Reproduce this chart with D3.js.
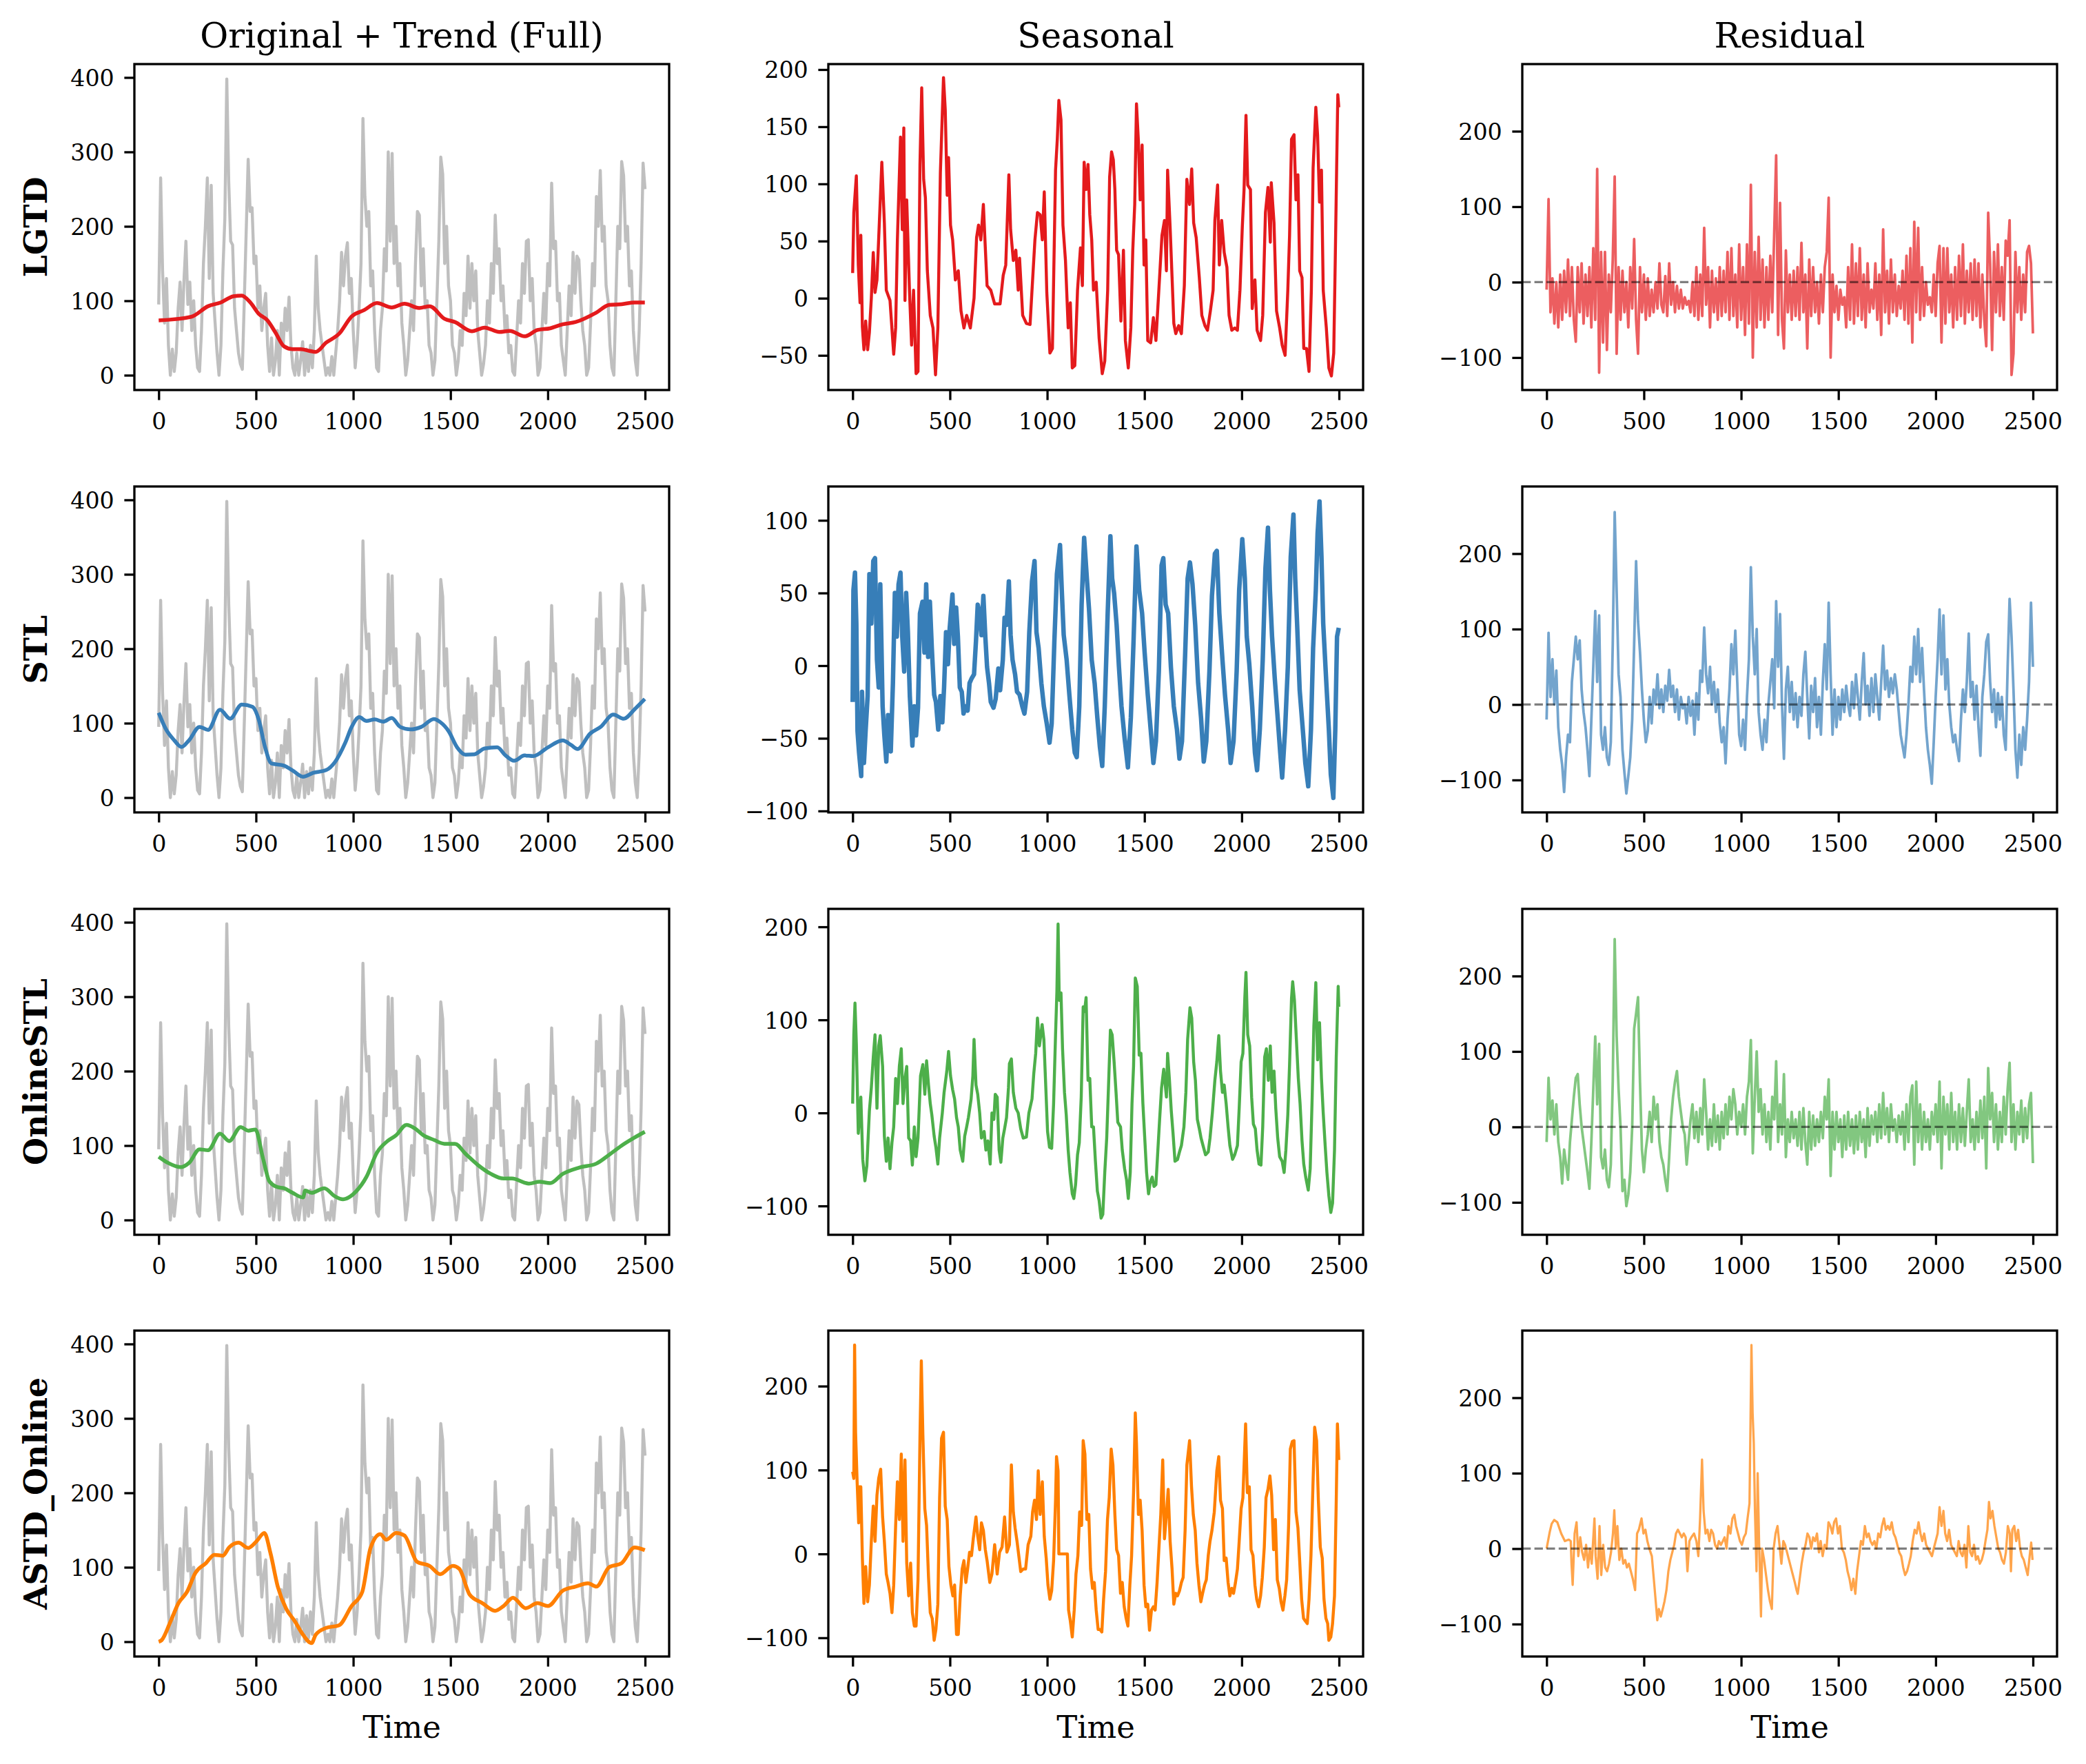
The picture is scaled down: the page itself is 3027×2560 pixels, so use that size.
<!DOCTYPE html>
<html><head><meta charset="utf-8">
<script src="https://cdn.jsdelivr.net/npm/d3@7"></script>
<style>body{margin:0;background:#fff}</style>
</head><body>
<svg id="chart" width="3027" height="2560"></svg>
<script>
// ---------------- DATA ----------------
const methods = ["LGTD", "STL", "OnlineSTL", "ASTD_Online"];
const methodColors = ["#e41a1c", "#377eb8", "#4daf4a", "#ff7f00"];
const colTitles = ["Original + Trend (Full)", "Seasonal", "Residual"];
const xTicks = [0, 500, 1000, 1500, 2000, 2500];
const origTicks = [0, 100, 200, 300, 400];
const seasTicks = [[-50, 0, 50, 100, 150, 200], [-100, -50, 0, 50, 100], [-100, 0, 100, 200], [-100, 0, 100, 200]];
const residTicks = [-100, 0, 100, 200];
const xLim = [-125, 2624];
const origLim = [-19.9, 418];
const seasLims = [[-80.3, 204.8], [-101, 123.3], [-131, 219.3], [-122.3, 266.2]];
const residLim = [-143, 289];

const sampleStep = 10; // time spacing of the uniformly sampled series below

const original = [
95,265,140,70,130,40,0,35,5,30,
90,125,60,128,180,95,125,60,100,40,
10,5,60,150,200,265,130,255,110,70,
30,0,40,140,210,398,260,180,175,90,
60,30,15,8,100,195,290,220,225,150,
160,90,120,60,90,110,40,5,50,0,
20,60,0,70,40,90,60,105,40,10,
0,30,0,20,45,0,35,5,40,10,
60,160,90,60,40,20,0,10,0,25,
0,30,60,100,165,120,160,178,110,130,
60,10,40,90,150,345,240,200,220,120,
140,60,10,5,60,90,170,140,300,180,
298,150,200,120,150,70,40,0,20,60,
100,60,150,220,215,120,170,90,100,40,
30,0,20,100,180,293,270,150,200,120,
100,40,30,0,20,60,40,110,80,160,
90,150,100,140,60,30,0,15,40,100,
70,150,110,215,150,170,100,120,60,80,
30,40,5,0,50,100,70,150,110,180,
182,100,130,60,40,0,10,60,110,70,
150,120,258,170,180,100,110,40,20,0,
60,120,80,165,110,160,155,100,60,40,
0,10,70,150,120,240,200,275,180,200,
120,100,40,10,0,100,200,170,287,268,
180,200,120,140,60,20,0,60,150,285,
250];

const trendLGTD = [[0,73.5],[167,78.5],[254,92.7],[319,97.7],[384,106],[427,107],[471,97.7],[514,82.6],[558,74],[601,57],[644,38.8],[688,35],[731,35],[775,32.7],[807,31.3],[861,43.8],[927,55.6],[992,79],[1057,87.6],[1122,97],[1198,91],[1263,96],[1339,90.3],[1393,92.7],[1469,75.8],[1523,71.4],[1610,59],[1675,64],[1751,58],[1805,59.6],[1881,52.2],[1947,60.7],[2012,63],[2077,68.4],[2142,71.4],[2250,84.2],[2315,94.4],[2380,95.4],[2446,97.7],[2499,97.7]];
const trendSTL = [[0,114],[37,92],[80,77],[117,68],[156,77],[210,95],[254,91],[315,118],[367,106],[427,125],[482,122],[514,105],[547,67.5],[579,46],[644,43],[688,36.5],[742,28],[796,33.4],[861,37],[905,47.4],[959,73.7],[992,95],[1031,108],[1068,103],[1111,105],[1154,102],[1198,107],[1241,95],[1295,91.6],[1350,95],[1415,105.6],[1447,101.5],[1491,89],[1534,67.5],[1577,57.6],[1621,58],[1675,66],[1740,67.5],[1783,56.6],[1827,49.5],[1881,56.6],[1925,55.7],[2001,67.5],[2077,76.8],[2120,70.6],[2153,65.3],[2218,86],[2272,95],[2337,111.5],[2391,106],[2446,118.6],[2499,132.5]];
const trendOnline = [[0,85],[48,76.7],[113,71],[156,76.7],[210,95],[254,93.7],[315,116],[362,106],[421,124.7],[460,120],[497,121.6],[536,83],[569,52],[612,44],[644,42.7],[688,36.5],[742,30.3],[753,39.6],[786,36.5],[851,42.7],[905,32],[948,27.8],[1013,38],[1068,58],[1122,90.6],[1176,106],[1220,113.8],[1274,127.8],[1317,123],[1361,113.8],[1415,107.6],[1469,102.4],[1523,102.4],[1577,89],[1642,73.6],[1708,61.9],[1773,55.7],[1816,55.7],[1903,48.9],[1957,51.4],[2012,49.5],[2077,61.9],[2163,70.5],[2250,75.8],[2315,87.5],[2380,100],[2446,110.7],[2499,118.5]];
const trendASTD = [[0,0],[15,2],[59,26],[102,52],[145,66.7],[189,92.6],[243,105.6],[286,116.7],[330,115.6],[362,126.7],[410,133],[460,126],[503,135],[543,146],[575,118.5],[612,74],[655,44.4],[699,27.8],[742,9.3],[786,-1.9],[807,9.3],[861,18.5],[927,22],[992,48],[1046,66.7],[1089,126],[1139,144.4],[1170,137],[1220,146],[1263,142.6],[1328,107.4],[1393,101.8],[1447,90.7],[1512,101.8],[1545,98],[1599,63],[1664,51.8],[1729,41.5],[1773,48],[1821,59],[1886,45],[1947,51.8],[2001,48],[2077,68.5],[2142,74],[2207,78.5],[2250,74],[2315,100],[2380,105.6],[2446,126.7],[2499,123]];

const seasLGTD = [[0,22],[6,75],[19,107],[29,29],[38,-4],[42,55],[50,-25],[58,-45],[67,-20],[77,-45],[86,-30],[96,0],[106,40],[115,5],[125,16],[134,53],[150,119],[163,66],[173,7],[192,-2],[211,-49],[221,-26],[230,51],[246,141],[255,60],[263,149],[269,-2],[278,86],[292,7],[303,-41],[313,7],[326,-66],[336,-64],[346,117],[355,184],[365,104],[374,88],[384,24],[399,-15],[413,-26],[426,-67],[438,-26],[451,110],[467,193],[476,165],[486,90],[493,123],[503,64],[514,51],[528,16],[543,24],[557,-11],[572,-26],[586,-15],[605,-26],[624,0],[637,53],[647,64],[659,51],[672,82],[682,44],[691,11],[710,7],[730,-5],[758,-5],[774,20],[787,29],[803,108],[812,60],[826,33],[839,42],[851,7],[858,35],[874,-15],[893,-22],[912,-23],[922,7],[937,51],[950,75],[964,73],[975,51],[985,93],[998,5],[1014,-48],[1027,-44],[1043,112],[1052,139],[1060,173],[1071,156],[1081,64],[1094,33],[1108,-26],[1119,-4],[1129,-61],[1142,-59],[1156,7],[1171,44],[1181,11],[1190,119],[1200,95],[1210,117],[1219,73],[1229,51],[1238,7],[1252,14],[1267,-35],[1283,-66],[1296,-55],[1311,7],[1321,106],[1331,128],[1340,121],[1348,95],[1357,42],[1367,38],[1379,-20],[1392,42],[1402,-37],[1417,-61],[1430,-26],[1440,42],[1450,82],[1459,170],[1469,137],[1478,86],[1488,134],[1498,29],[1507,51],[1517,-37],[1532,-39],[1546,-17],[1559,-37],[1574,7],[1590,55],[1603,68],[1613,24],[1619,112],[1632,62],[1642,18],[1651,-22],[1661,-31],[1676,-24],[1690,-31],[1705,11],[1718,104],[1732,82],[1743,113],[1753,66],[1766,53],[1782,18],[1795,-15],[1811,-24],[1824,-28],[1839,-11],[1853,7],[1862,68],[1876,99],[1885,29],[1897,68],[1910,40],[1924,27],[1935,-15],[1949,-28],[1964,-26],[1978,-28],[1991,7],[2003,62],[2012,95],[2022,160],[2031,99],[2045,95],[2054,-9],[2068,16],[2079,-28],[2097,-37],[2108,-15],[2122,75],[2135,97],[2147,49],[2152,101],[2166,66],[2179,-11],[2195,-26],[2208,-41],[2223,-50],[2237,7],[2246,55],[2256,139],[2269,143],[2279,86],[2289,108],[2298,24],[2310,18],[2319,-44],[2333,-44],[2346,-64],[2358,7],[2367,114],[2381,167],[2390,143],[2400,84],[2410,112],[2419,7],[2435,-26],[2448,-61],[2461,-68],[2473,-48],[2481,35],[2488,114],[2494,178],[2499,167]];

const seasSTL = [[0,-25],[4,52],[12,64],[19,29],[25,-45],[33,-60],[44,-76],[48,-18],[58,-67],[67,-44],[77,-21],[86,63],[96,29],[106,72],[115,74],[125,4],[134,-15],[142,56],[154,-28],[163,-48],[173,-66],[182,-34],[196,-59],[207,-12],[217,50],[227,20],[236,56],[246,64],[255,20],[265,-4],[275,50],[284,23],[294,-21],[307,-55],[317,-28],[326,-48],[336,-29],[346,36],[359,44],[369,9],[378,56],[388,6],[397,44],[407,12],[419,-20],[428,-25],[440,-44],[451,-21],[461,-39],[470,-15],[480,23],[490,1],[499,26],[513,49],[522,15],[532,40],[541,20],[551,-15],[561,-18],[570,-33],[580,-28],[591,-31],[601,-12],[611,-9],[624,-6],[634,17],[643,42],[653,36],[662,21],[672,48],[682,20],[691,-1],[701,-12],[710,-25],[724,-29],[735,-23],[749,-2],[758,-17],[772,4],[781,33],[791,28],[803,58],[812,21],[822,4],[835,-6],[845,-18],[858,-20],[872,-28],[883,-33],[897,-18],[908,23],[922,58],[935,72],[945,23],[956,12],[970,-12],[983,-28],[998,-40],[1012,-53],[1023,-40],[1037,17],[1050,63],[1066,83],[1075,52],[1085,21],[1100,4],[1114,-20],[1129,-44],[1142,-60],[1152,-63],[1165,-28],[1177,42],[1190,88],[1204,60],[1215,39],[1229,4],[1244,-12],[1258,-36],[1271,-56],[1283,-69],[1296,-28],[1311,36],[1325,89],[1334,60],[1344,50],[1357,28],[1369,-1],[1382,-28],[1398,-50],[1415,-70],[1430,-36],[1444,17],[1459,82],[1473,52],[1488,36],[1501,9],[1517,-20],[1532,-44],[1546,-67],[1559,-52],[1574,-4],[1588,69],[1597,74],[1609,42],[1622,36],[1636,-1],[1651,-28],[1667,-44],[1680,-64],[1693,-52],[1709,7],[1722,60],[1734,71],[1747,56],[1761,28],[1776,-12],[1791,-36],[1805,-66],[1818,-52],[1834,-4],[1847,48],[1862,77],[1872,79],[1885,36],[1901,4],[1914,-20],[1930,-44],[1943,-67],[1958,-52],[1974,-4],[1987,52],[2003,87],[2016,60],[2026,20],[2039,1],[2054,-28],[2068,-60],[2079,-72],[2093,-44],[2108,4],[2122,67],[2135,95],[2145,52],[2156,20],[2170,-9],[2185,-36],[2198,-60],[2208,-77],[2223,-44],[2237,-1],[2252,75],[2266,104],[2275,60],[2285,28],[2298,-17],[2314,-44],[2327,-67],[2342,-83],[2356,-44],[2367,12],[2381,52],[2390,91],[2400,113],[2410,75],[2419,29],[2435,-12],[2448,-44],[2458,-75],[2471,-91],[2481,-44],[2490,20],[2499,26]];

const seasOnline = [[0,10],[6,84],[12,118],[19,74],[29,-22],[42,17],[52,-50],[63,-73],[73,-57],[86,2],[96,27],[106,60],[115,84],[125,5],[134,72],[142,83],[154,50],[163,-25],[173,-52],[182,-27],[192,-60],[202,-32],[211,-15],[221,37],[230,10],[240,50],[250,69],[259,10],[269,37],[278,50],[288,-27],[298,-30],[307,-56],[317,-15],[326,-47],[336,-27],[349,40],[361,52],[371,20],[380,56],[390,30],[399,10],[407,-2],[419,-25],[428,-37],[438,-55],[447,-27],[461,0],[470,22],[484,45],[493,66],[503,40],[514,25],[524,15],[534,-5],[543,-15],[553,-40],[566,-52],[576,-25],[586,-15],[595,-5],[609,15],[618,40],[624,79],[634,30],[643,20],[653,0],[662,-27],[676,-20],[685,-40],[695,-30],[707,-55],[716,0],[726,-7],[733,20],[743,17],[753,-40],[762,-53],[772,-27],[781,-17],[791,-5],[801,27],[806,53],[816,58],[826,22],[839,5],[851,0],[864,-17],[877,-27],[893,-26],[906,0],[922,15],[931,42],[941,64],[950,102],[960,72],[974,95],[983,79],[993,27],[1002,-20],[1012,-37],[1023,-38],[1033,10],[1043,84],[1050,131],[1056,203],[1062,121],[1071,129],[1079,69],[1089,22],[1098,-2],[1108,-40],[1117,-64],[1129,-87],[1137,-92],[1146,-77],[1156,-45],[1165,-32],[1175,17],[1185,114],[1192,109],[1200,124],[1210,35],[1219,37],[1229,-15],[1238,-15],[1248,-52],[1258,-84],[1267,-94],[1277,-113],[1286,-109],[1296,-64],[1306,-27],[1315,27],[1325,89],[1334,84],[1344,55],[1354,22],[1363,-10],[1377,-15],[1386,-40],[1398,-60],[1408,-72],[1417,-92],[1427,-64],[1436,10],[1444,50],[1453,145],[1463,136],[1473,62],[1482,64],[1492,10],[1501,-25],[1511,-64],[1521,-87],[1530,-74],[1540,-69],[1549,-79],[1559,-77],[1569,-40],[1578,-7],[1588,27],[1599,47],[1613,17],[1619,64],[1628,37],[1638,2],[1647,-22],[1657,-52],[1670,-50],[1680,-42],[1690,-35],[1703,-15],[1713,22],[1722,79],[1734,113],[1743,102],[1753,55],[1762,35],[1772,-7],[1782,-17],[1791,-27],[1801,-35],[1814,-45],[1828,-42],[1837,-27],[1849,0],[1862,35],[1872,55],[1882,83],[1891,45],[1901,22],[1910,30],[1920,10],[1930,-15],[1939,-35],[1953,-50],[1964,-45],[1978,-35],[1987,5],[1997,55],[2006,64],[2016,124],[2022,151],[2031,84],[2041,72],[2051,17],[2060,-12],[2070,-17],[2079,-40],[2089,-55],[2099,-56],[2108,-15],[2118,60],[2127,69],[2137,35],[2147,72],[2156,22],[2166,45],[2175,5],[2185,-27],[2195,-47],[2208,-52],[2218,-64],[2227,-40],[2237,-2],[2246,52],[2256,123],[2262,141],[2271,121],[2281,79],[2291,37],[2300,10],[2310,-30],[2319,-55],[2329,-69],[2342,-83],[2352,-60],[2362,15],[2371,94],[2381,140],[2390,57],[2400,97],[2410,37],[2419,0],[2429,-35],[2438,-64],[2448,-89],[2458,-107],[2467,-97],[2477,-40],[2486,60],[2496,136],[2499,114]];

const seasASTD = [[0,98],[6,90],[10,249],[15,145],[23,86],[31,37],[35,80],[42,80],[50,-5],[58,-59],[67,-15],[77,-57],[86,-37],[96,15],[106,57],[115,15],[125,70],[134,90],[144,101],[154,44],[163,15],[173,-24],[182,-34],[192,-47],[202,-70],[211,-37],[221,34],[230,86],[240,41],[250,119],[259,15],[269,112],[278,-11],[288,-50],[298,-11],[307,-70],[317,-86],[326,-86],[336,-31],[346,138],[353,230],[361,142],[371,54],[380,34],[390,-28],[399,-70],[409,-77],[419,-103],[428,-90],[438,-60],[447,67],[457,138],[467,145],[476,57],[486,41],[495,-15],[505,-37],[515,-50],[524,-37],[534,-96],[543,-96],[553,-50],[563,-18],[572,-8],[582,-34],[591,-18],[601,2],[611,-2],[620,18],[634,44],[643,21],[653,5],[662,37],[672,28],[682,5],[691,-8],[705,-34],[716,-24],[730,11],[743,-24],[755,2],[768,8],[781,44],[793,2],[806,11],[816,106],[826,50],[835,31],[845,15],[854,-2],[864,-21],[877,-18],[889,-18],[902,11],[916,21],[925,50],[935,64],[945,41],[954,99],[964,47],[975,86],[985,21],[995,-5],[1004,-37],[1014,-54],[1023,-44],[1033,-8],[1043,64],[1048,116],[1056,99],[1060,0],[1104,0],[1110,-67],[1119,-80],[1129,-99],[1139,-67],[1148,-24],[1158,-2],[1167,50],[1177,34],[1185,135],[1194,119],[1204,41],[1214,47],[1223,-18],[1233,-41],[1242,-34],[1252,-67],[1262,-90],[1271,-90],[1281,-93],[1290,-54],[1300,-21],[1310,41],[1319,67],[1329,125],[1338,106],[1348,47],[1357,5],[1367,-2],[1377,-47],[1386,-34],[1396,-63],[1406,-77],[1415,-86],[1425,-37],[1434,-2],[1444,73],[1453,168],[1459,132],[1469,47],[1478,64],[1488,28],[1498,-37],[1507,-63],[1517,-60],[1526,-91],[1536,-67],[1546,-63],[1555,-67],[1565,-34],[1574,5],[1584,47],[1594,112],[1603,18],[1613,47],[1622,77],[1632,15],[1642,-18],[1651,-60],[1661,-47],[1670,-50],[1680,-44],[1690,-34],[1699,-28],[1709,28],[1718,106],[1732,135],[1742,80],[1751,47],[1761,28],[1770,-11],[1780,-37],[1790,-57],[1799,-47],[1809,-37],[1818,-31],[1828,-2],[1837,15],[1847,28],[1859,50],[1872,99],[1882,116],[1891,64],[1901,54],[1910,-8],[1920,-5],[1930,-34],[1939,-50],[1949,-41],[1958,-47],[1968,-34],[1978,-18],[1987,15],[1997,54],[2006,67],[2020,155],[2029,73],[2039,80],[2048,5],[2058,-2],[2068,-37],[2077,-54],[2087,-63],[2097,-50],[2106,-28],[2116,8],[2125,67],[2135,77],[2145,93],[2154,70],[2164,5],[2173,41],[2183,-31],[2193,-41],[2202,-57],[2212,-67],[2222,-50],[2231,-31],[2241,34],[2250,125],[2260,134],[2269,135],[2279,50],[2289,31],[2298,-8],[2308,-54],[2318,-77],[2327,-80],[2337,-83],[2346,-54],[2356,-2],[2366,80],[2375,151],[2385,135],[2394,64],[2404,8],[2414,-5],[2423,-54],[2433,-77],[2442,-83],[2448,-103],[2458,-99],[2467,-83],[2477,-50],[2486,64],[2492,155],[2499,112]];

const residLGTD = [
-10,110,-40,5,-55,0,-60,10,-50,15,
-40,30,-45,20,-50,-79,20,-40,25,-55,
10,-45,20,-60,45,-50,150,-120,40,-80,
40,-90,10,-40,30,140,-95,20,-50,15,
-40,0,-60,20,-35,57,-50,-95,20,-40,
10,-50,5,-45,-10,-40,0,-35,25,-30,
-40,8,-45,25,-30,0,-40,-5,-35,-10,
-35,-20,-30,-25,-40,0,-45,20,-50,10,
-45,72,-30,20,-60,15,-40,5,-50,20,
-45,15,-40,40,-50,45,-45,10,-60,50,
-50,20,-70,50,-55,129,-100,40,-60,60,
-50,30,-60,20,-50,35,-40,65,168,-70,
105,-50,-88,42,-40,10,-50,15,-45,20,
-50,52,-40,10,-88,30,-45,20,-40,0,
-55,10,-40,20,40,112,-100,10,-40,-5,
-50,-10,-30,-20,-60,20,-50,50,-55,25,
-45,45,-50,10,-60,25,-40,-10,-35,25,
-50,10,-70,70,-40,15,-55,30,-40,10,
-45,-5,-35,15,-50,35,-55,45,-80,80,
-40,72,-50,20,-45,0,-30,-20,-40,10,
-45,25,48,-80,45,-55,45,-40,10,-60,
20,-50,35,-45,50,-55,15,-40,25,-50,
30,-45,25,-60,10,-50,-85,92,25,-90,
40,-40,50,-45,20,-50,55,35,82,-123,
-95,40,-40,20,-50,10,-40,40,48,25,
-68];

const residSTL = [
-20,95,10,60,0,45,-30,-60,-80,-116,
-70,-40,-50,30,60,90,60,85,20,-10,
-30,-60,-95,-20,50,124,30,118,-40,-60,
-30,-70,-80,-50,80,255,150,40,10,-60,
-90,-118,-95,-70,-20,80,190,110,70,20,
-20,-50,-35,10,-25,20,0,40,-5,20,
-10,25,5,46,10,25,-10,20,-20,10,
-5,0,-25,10,-15,5,-40,15,-20,45,
30,102,40,15,50,0,30,-10,20,-25,
-50,-30,-78,-20,20,80,40,98,30,-40,
-55,-20,-60,10,60,182,90,40,100,-10,
-40,-60,-20,-50,0,30,60,-5,137,50,
120,0,-72,20,50,-10,30,-20,15,-30,
10,-15,40,70,10,-45,25,-10,35,-30,
10,-40,30,80,20,135,40,-40,20,-30,
10,-20,20,-10,25,0,-15,30,-5,40,
10,-20,30,68,0,25,-15,35,-10,40,
10,-20,30,78,20,45,10,35,15,40,
20,-10,-40,-55,-70,-40,0,50,30,90,
40,100,30,75,20,-30,-60,-80,-105,-50,
10,60,126,40,118,20,60,0,-30,-50,
-40,-60,-75,-20,20,-10,30,94,10,30,
-20,25,-30,-68,10,40,83,93,30,-10,
20,-30,15,-20,10,-40,-60,50,140,90,
20,-60,-97,-40,-80,-30,-60,-20,30,135,
50];

const residOnline = [
-20,65,10,35,-10,30,-20,-40,-75,-30,
-50,-70,-20,10,40,65,70,30,0,-20,
-40,-60,-82,-20,50,120,30,110,-40,-55,
-30,-70,-80,-50,60,249,120,50,0,-85,
-70,-105,-90,-60,0,130,150,172,60,-30,
-60,-30,-10,20,-20,40,10,30,-20,-40,
-50,-70,-85,-40,10,40,60,74,40,20,
0,-10,-50,-20,10,30,-15,20,-20,25,
-10,63,20,-30,10,-25,30,-20,15,-30,
20,-15,30,-10,40,10,50,30,-10,20,
0,30,-10,40,60,115,-35,40,100,20,
50,-10,30,-20,20,-30,40,10,87,-20,
30,-10,70,-40,10,-20,20,-15,10,-25,
20,-30,25,-20,-50,20,-30,15,-25,10,
-20,20,-15,40,10,63,-65,20,-30,20,
-20,10,-40,15,-30,20,-25,10,-35,15,
-30,20,-20,10,-40,25,-25,15,-10,20,
-20,30,-15,45,-10,25,-20,30,-5,10,
-20,15,-10,20,-30,30,-20,40,55,-50,
60,-20,30,-30,20,-20,10,-30,20,-10,
30,-20,60,-55,40,-10,30,-30,45,-20,
20,-30,30,-20,25,-25,20,63,-20,10,
-30,20,-20,35,-15,40,-55,78,10,45,
-20,30,-30,20,-20,40,-10,50,85,-20,
30,-30,20,-10,35,-20,25,-15,30,45,
-48];

const residASTD = [[0,0],[16,22],[26,33],[39,38],[55,35],[75,20],[94,10],[114,12],[124,10],[128,-20],[134,-48],[144,20],[154,35],[163,-10],[173,15],[183,-5],[193,-15],[203,5],[213,-25],[222,0],[232,-20],[246,40],[252,-10],[262,-40],[272,30],[281,-35],[291,5],[301,-25],[311,-30],[321,-20],[331,-5],[341,20],[348,51],[356,0],[364,30],[374,-15],[384,0],[394,-20],[404,-15],[413,-25],[423,-20],[433,-30],[443,-40],[455,-55],[465,20],[474,25],[488,40],[498,20],[508,25],[518,10],[528,0],[541,-10],[551,-40],[561,-70],[569,-95],[577,-80],[587,-90],[597,-80],[606,-70],[616,-55],[626,-30],[636,-15],[646,-5],[656,5],[665,20],[675,25],[685,20],[695,15],[705,20],[715,15],[724,-30],[734,10],[744,15],[758,20],[770,10],[780,-10],[789,40],[799,118],[807,50],[817,20],[827,25],[837,10],[846,25],[856,20],[866,5],[876,0],[886,10],[896,5],[906,10],[915,15],[925,0],[935,30],[945,20],[955,40],[965,45],[974,30],[984,20],[994,10],[1004,5],[1014,15],[1024,20],[1033,40],[1043,60],[1053,270],[1059,180],[1065,140],[1071,50],[1079,-30],[1085,100],[1093,0],[1102,-90],[1108,0],[1118,-15],[1128,-35],[1138,-55],[1148,-70],[1158,-80],[1167,0],[1177,20],[1187,30],[1197,5],[1207,-20],[1217,10],[1226,5],[1236,-5],[1246,-15],[1256,-25],[1266,-35],[1276,-45],[1285,-55],[1291,-60],[1301,-40],[1311,-20],[1321,-5],[1331,5],[1341,20],[1351,15],[1360,0],[1370,15],[1380,10],[1390,20],[1400,-5],[1409,10],[1419,-10],[1429,5],[1439,0],[1449,35],[1459,30],[1469,20],[1478,35],[1488,40],[1498,20],[1508,30],[1518,0],[1528,-5],[1538,-15],[1547,-30],[1557,-40],[1567,-55],[1577,-40],[1587,-60],[1596,-30],[1606,-10],[1616,10],[1626,5],[1636,30],[1646,15],[1656,20],[1665,10],[1675,5],[1685,10],[1695,0],[1705,20],[1715,15],[1724,30],[1734,40],[1744,25],[1754,30],[1764,25],[1774,35],[1784,20],[1793,15],[1803,5],[1813,-5],[1823,-10],[1833,-25],[1843,-35],[1853,-30],[1863,-20],[1872,-10],[1882,10],[1892,25],[1902,20],[1912,35],[1922,20],[1931,10],[1941,20],[1951,5],[1961,0],[1971,-5],[1981,-10],[1990,0],[2000,10],[2010,20],[2020,55],[2030,30],[2040,50],[2049,20],[2059,10],[2069,25],[2079,5],[2089,0],[2099,-5],[2109,-10],[2118,10],[2128,-5],[2138,-10],[2148,5],[2158,-25],[2168,30],[2178,-5],[2187,-10],[2197,5],[2207,-15],[2217,-10],[2227,-20],[2237,-15],[2247,-5],[2256,10],[2266,25],[2274,62],[2282,40],[2292,50],[2302,30],[2312,15],[2322,0],[2331,-5],[2341,-15],[2351,-20],[2361,-5],[2371,30],[2381,20],[2387,-30],[2394,25],[2404,30],[2414,10],[2424,25],[2434,0],[2443,-10],[2453,-15],[2463,-25],[2473,-35],[2483,-10],[2491,8],[2498,-15]];

const trends = [trendLGTD, trendSTL, trendOnline, trendASTD];
const seasonals = [seasLGTD, seasSTL, seasOnline, seasASTD];
const residuals = [residLGTD, residSTL, residOnline, residASTD];

// ---------------- LAYOUT ----------------
const W = 3027, H = 2560;
const colLeft = [195, 1202, 2209], axW = 776;
const rowTop = [93, 706, 1319, 1931], axH = 473;
const FONT = "'DejaVu Serif', serif";
const tickLen = 14.6, tickPad = 14.6, tickFont = 33.3;

const svg = d3.select("#chart");
svg.append("rect").attr("width", W).attr("height", H).attr("fill", "#fff");

const fmt = v => (v < 0 ? "\u2212" + Math.abs(v) : String(v));
const toPts = arr => arr.map((v, i) => [i * sampleStep, v]);

let clipId = 0;
function panel(r, c, yLim, yTicks, draw) {
  const g = svg.append("g").attr("transform", `translate(${colLeft[c]},${rowTop[r]})`);
  const x = d3.scaleLinear().domain(xLim).range([0, axW]);
  const y = d3.scaleLinear().domain(yLim).range([axH, 0]);
  const id = "clip" + (clipId++);
  g.append("clipPath").attr("id", id).append("rect").attr("width", axW).attr("height", axH);
  const plot = g.append("g").attr("clip-path", `url(#${id})`);
  draw(plot, x, y);
  const ya = g.append("g").call(d3.axisLeft(y).tickValues(yTicks).tickFormat(fmt).tickSize(tickLen).tickPadding(tickPad));
  const xa = g.append("g").attr("transform", `translate(0,${axH})`)
    .call(d3.axisBottom(x).tickValues(xTicks).tickFormat(fmt).tickSize(tickLen).tickPadding(tickPad));
  [ya, xa].forEach(a => {
    a.select(".domain").remove();
    a.selectAll(".tick line").attr("stroke", "#000").attr("stroke-width", 3.3);
    a.selectAll(".tick text").attr("fill", "#000").style("font-family", FONT).style("font-size", tickFont + "px");
  });
  xa.selectAll(".tick text").attr("dy", "0.84em");
  ya.selectAll(".tick text").attr("dy", "0.36em");
  g.append("rect").attr("width", axW).attr("height", axH).attr("fill", "none")
    .attr("stroke", "#000").attr("stroke-width", 3.3);
  return g;
}

const lineGen = (x, y, curve) => d3.line().x(d => x(d[0])).y(d => y(d[1])).curve(curve || d3.curveLinear);

methods.forEach((m, r) => {
  const col = methodColors[r];
  panel(r, 0, origLim, origTicks, (p, x, y) => {
    p.append("path").datum(toPts(original)).attr("d", lineGen(x, y))
      .attr("fill", "none").attr("stroke", "#bfbfbf").attr("stroke-width", 4.4).attr("stroke-linejoin", "round");
    p.append("path").datum(trends[r]).attr("d", lineGen(x, y, d3.curveMonotoneX))
      .attr("fill", "none").attr("stroke", col).attr("stroke-width", 5.5).attr("stroke-linejoin", "round");
  });
  panel(r, 1, seasLims[r], seasTicks[r], (p, x, y) => {
    p.append("path").datum(seasonals[r]).attr("d", lineGen(x, y))
      .attr("fill", "none").attr("stroke", col).attr("stroke-width", r === 1 ? 6.5 : 4.4).attr("stroke-linejoin", "round");
  });
  panel(r, 2, residLim, residTicks, (p, x, y) => {
    const data = Array.isArray(residuals[r][0]) ? residuals[r] : toPts(residuals[r]);
    p.append("path").datum(data).attr("d", lineGen(x, y))
      .attr("fill", "none").attr("stroke", col).attr("stroke-opacity", 0.7).attr("stroke-width", r === 3 ? 3.3 : 3.8).attr("stroke-linejoin", "round");
    p.append("line").attr("x1", 0).attr("x2", axW).attr("y1", y(0)).attr("y2", y(0))
      .attr("stroke", "#000").attr("stroke-opacity", 0.5).attr("stroke-width", 3.3).attr("stroke-dasharray", "12.3,5.3");
  });
  svg.append("text").attr("transform", `translate(68,${rowTop[r] + axH / 2}) rotate(-90)`)
    .attr("text-anchor", "middle").style("font-family", FONT).style("font-size", "46px").style("font-weight", "bold")
    .text(m);
});

colTitles.forEach((t, c) => {
  svg.append("text").attr("x", colLeft[c] + axW / 2).attr("y", 69).attr("text-anchor", "middle")
    .style("font-family", FONT).style("font-size", "50px").text(t);
  svg.append("text").attr("x", colLeft[c] + axW / 2).attr("y", 2522).attr("text-anchor", "middle")
    .style("font-family", FONT).style("font-size", "45px").text("Time");
});
</script>
</body></html>
